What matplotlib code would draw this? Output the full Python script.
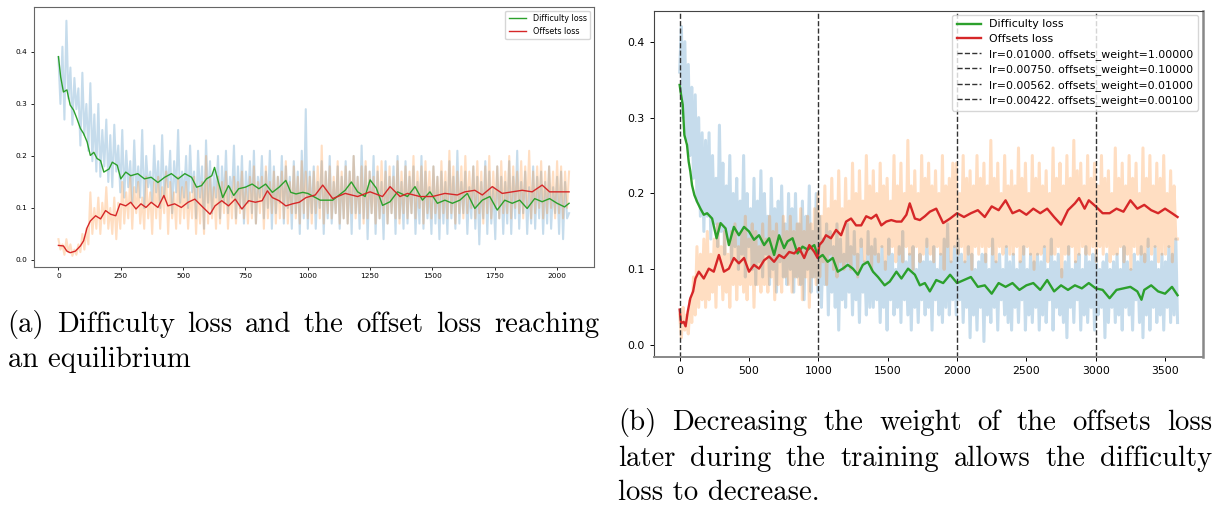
import numpy as np
import matplotlib
matplotlib.use("Agg")
import matplotlib.pyplot as plt
from matplotlib.font_manager import FontProperties

# ---------------- (a) equilibrium run ----------------
steps_a = 2048
diff_raw_a = [0.39, 0.30, 0.41, 0.27, 0.46, 0.31, 0.37, 0.26, 0.35, 0.29, 0.33, 0.22, 0.36, 0.24, 0.30, 0.21,
              0.34, 0.19, 0.28, 0.17, 0.30, 0.16, 0.25, 0.18, 0.27, 0.15, 0.24, 0.14, 0.26, 0.17, 0.22, 0.13,
              0.25, 0.12, 0.21, 0.14, 0.19, 0.11, 0.23, 0.13, 0.18, 0.12, 0.25, 0.10, 0.20, 0.14, 0.17, 0.11,
              0.22, 0.13, 0.19, 0.10, 0.24, 0.12, 0.18, 0.14, 0.21, 0.09, 0.19, 0.13, 0.25, 0.11, 0.17, 0.12,
              0.20, 0.10, 0.22, 0.13, 0.17, 0.08, 0.21, 0.12, 0.18, 0.06, 0.23, 0.11, 0.19, 0.09, 0.17, 0.12,
              0.20, 0.08, 0.18, 0.11, 0.21, 0.09, 0.16, 0.12, 0.22, 0.08, 0.18, 0.10, 0.20, 0.07, 0.17, 0.11,
              0.19, 0.09, 0.21, 0.07, 0.16, 0.12, 0.20, 0.08, 0.17, 0.10, 0.21, 0.06, 0.18, 0.09, 0.16, 0.11,
              0.20, 0.07, 0.18, 0.10, 0.16, 0.06, 0.19, 0.09, 0.17, 0.05, 0.21, 0.08, 0.29, 0.06, 0.17, 0.09,
              0.18, 0.06, 0.15, 0.10, 0.19, 0.05, 0.17, 0.08, 0.20, 0.07, 0.15, 0.09, 0.18, 0.06, 0.16, 0.08,
              0.19, 0.07, 0.17, 0.05, 0.20, 0.09, 0.16, 0.06, 0.22, 0.08, 0.18, 0.04, 0.17, 0.09, 0.20, 0.05,
              0.17, 0.08, 0.15, 0.04, 0.19, 0.07, 0.16, 0.09, 0.18, 0.05, 0.20, 0.08, 0.15, 0.06, 0.19, 0.07,
              0.16, 0.09, 0.18, 0.05, 0.15, 0.07, 0.20, 0.06, 0.17, 0.08, 0.14, 0.05, 0.18, 0.07, 0.16, 0.04,
              0.17, 0.07, 0.15, 0.05, 0.19, 0.08, 0.16, 0.06, 0.21, 0.07, 0.15, 0.09, 0.17, 0.05, 0.14, 0.08,
              0.18, 0.06, 0.16, 0.03, 0.15, 0.08, 0.19, 0.05, 0.17, 0.07, 0.14, 0.04, 0.18, 0.08, 0.16, 0.05,
              0.15, 0.07, 0.19, 0.05, 0.16, 0.08, 0.21, 0.06, 0.15, 0.09, 0.17, 0.05, 0.14, 0.07, 0.18, 0.06,
              0.16, 0.08, 0.17, 0.05, 0.15, 0.07, 0.18, 0.06, 0.14, 0.09, 0.16, 0.05, 0.17, 0.04, 0.15, 0.08,
              0.09]
off_raw_a = [0.04, 0.02, 0.03, 0.01, 0.04, 0.015, 0.03, 0.008, 0.02, 0.01, 0.03, 0.015, 0.05, 0.02, 0.06, 0.03,
             0.13, 0.05, 0.10, 0.06, 0.12, 0.05, 0.11, 0.07, 0.14, 0.06, 0.10, 0.05, 0.12, 0.04, 0.11, 0.06,
             0.15, 0.07, 0.13, 0.08, 0.16, 0.06, 0.14, 0.09, 0.15, 0.07, 0.12, 0.06, 0.16, 0.08, 0.13, 0.05,
             0.15, 0.08, 0.16, 0.06, 0.14, 0.09, 0.17, 0.05, 0.15, 0.08, 0.13, 0.06, 0.16, 0.07, 0.14, 0.08,
             0.15, 0.06, 0.13, 0.08, 0.16, 0.05, 0.14, 0.07, 0.15, 0.05, 0.20, 0.07, 0.16, 0.08, 0.14, 0.06,
             0.16, 0.07, 0.15, 0.09, 0.17, 0.06, 0.14, 0.08, 0.16, 0.07, 0.15, 0.09, 0.17, 0.08, 0.14, 0.07,
             0.16, 0.08, 0.18, 0.07, 0.15, 0.09, 0.16, 0.06, 0.18, 0.08, 0.15, 0.09, 0.17, 0.07, 0.16, 0.08,
             0.17, 0.08, 0.19, 0.07, 0.15, 0.09, 0.18, 0.08, 0.16, 0.07, 0.19, 0.09, 0.17, 0.08, 0.16, 0.07,
             0.17, 0.09, 0.18, 0.08, 0.22, 0.07, 0.17, 0.09, 0.18, 0.08, 0.16, 0.09, 0.19, 0.07, 0.17, 0.08,
             0.18, 0.07, 0.17, 0.09, 0.20, 0.08, 0.16, 0.09, 0.18, 0.07, 0.19, 0.08, 0.17, 0.09, 0.16, 0.07,
             0.18, 0.08, 0.19, 0.09, 0.17, 0.07, 0.18, 0.09, 0.16, 0.08, 0.19, 0.07, 0.17, 0.09, 0.18, 0.08,
             0.17, 0.09, 0.20, 0.08, 0.17, 0.10, 0.18, 0.07, 0.19, 0.09, 0.17, 0.08, 0.18, 0.09, 0.16, 0.08,
             0.19, 0.09, 0.17, 0.08, 0.21, 0.09, 0.18, 0.07, 0.17, 0.09, 0.18, 0.08, 0.20, 0.09, 0.17, 0.10,
             0.18, 0.08, 0.19, 0.09, 0.17, 0.07, 0.18, 0.09, 0.20, 0.08, 0.17, 0.10, 0.18, 0.08, 0.19, 0.09,
             0.17, 0.09, 0.20, 0.08, 0.18, 0.10, 0.17, 0.09, 0.19, 0.08, 0.18, 0.10, 0.21, 0.08, 0.17, 0.09,
             0.18, 0.10, 0.19, 0.08, 0.17, 0.09, 0.18, 0.10, 0.17, 0.08, 0.19, 0.09, 0.18, 0.08, 0.17, 0.10,
             0.17]

diff_steps_a = [0, 9, 20, 34, 47, 61, 74, 88, 101, 115, 128, 142, 155, 169, 182, 203, 216, 236, 250, 270,
                290, 318, 345, 372, 399, 426, 453, 480, 507, 534, 554, 574, 594, 615, 626, 642, 659, 682, 703,
                723, 750, 777, 804, 831, 858, 885, 912, 932, 953, 980, 1000, 1050, 1100, 1150, 1175, 1200,
                1230, 1250, 1275, 1300, 1330, 1360, 1400, 1430, 1460, 1490, 1520, 1550, 1580, 1610, 1640,
                1670, 1700, 1730, 1760, 1790, 1820, 1850, 1880, 1910, 1940, 1970, 2000, 2030, 2048]
diff_smooth_a = [0.391, 0.352, 0.323, 0.327, 0.298, 0.288, 0.272, 0.253, 0.243, 0.227, 0.201, 0.207, 0.195,
                 0.191, 0.169, 0.175, 0.188, 0.182, 0.156, 0.169, 0.162, 0.166, 0.156, 0.159, 0.149, 0.159,
                 0.166, 0.156, 0.166, 0.159, 0.140, 0.143, 0.156, 0.162, 0.178, 0.149, 0.120, 0.143, 0.124,
                 0.137, 0.140, 0.146, 0.137, 0.146, 0.130, 0.140, 0.153, 0.130, 0.127, 0.130, 0.128, 0.115,
                 0.115, 0.134, 0.150, 0.131, 0.122, 0.154, 0.138, 0.105, 0.112, 0.131, 0.122, 0.141, 0.115,
                 0.131, 0.109, 0.115, 0.109, 0.115, 0.128, 0.099, 0.115, 0.122, 0.096, 0.115, 0.109, 0.115,
                 0.099, 0.118, 0.112, 0.118, 0.109, 0.102, 0.109]
off_steps_a = [0, 20, 34, 47, 68, 88, 101, 115, 128, 149, 169, 189, 209, 230, 247, 270, 290, 311, 331, 351,
               372, 399, 423, 439, 466, 493, 520, 547, 574, 608, 628, 655, 682, 709, 736, 763, 790, 817, 838,
               858, 885, 912, 939, 966, 993, 1030, 1060, 1100, 1150, 1200, 1250, 1300, 1330, 1370, 1400, 1450,
               1500, 1550, 1600, 1630, 1670, 1700, 1740, 1780, 1820, 1860, 1900, 1940, 1970, 2000, 2048]
off_smooth_a = [0.028, 0.027, 0.017, 0.014, 0.017, 0.027, 0.037, 0.062, 0.075, 0.085, 0.079, 0.095, 0.088,
                0.085, 0.108, 0.104, 0.111, 0.098, 0.108, 0.101, 0.111, 0.101, 0.124, 0.104, 0.108, 0.101,
                0.111, 0.117, 0.104, 0.088, 0.104, 0.114, 0.104, 0.117, 0.098, 0.114, 0.111, 0.114, 0.133,
                0.120, 0.114, 0.104, 0.108, 0.111, 0.120, 0.125, 0.144, 0.118, 0.128, 0.122, 0.131, 0.122,
                0.141, 0.122, 0.128, 0.122, 0.122, 0.128, 0.125, 0.131, 0.134, 0.125, 0.141, 0.128, 0.131,
                0.134, 0.131, 0.144, 0.131, 0.131, 0.131]

# ---------------- (b) weight schedule run ----------------
steps_b = 3590
diff_raw_b = [0.36, 0.42, 0.30, 0.40, 0.27, 0.37, 0.25, 0.34, 0.22, 0.33, 0.19, 0.30, 0.17, 0.28, 0.15, 0.27,
              0.17, 0.28, 0.14, 0.25, 0.16, 0.22, 0.13, 0.29, 0.15, 0.24, 0.12, 0.21, 0.14, 0.25, 0.11, 0.20,
              0.13, 0.22, 0.10, 0.19, 0.12, 0.25, 0.09, 0.20, 0.13, 0.18, 0.10, 0.22, 0.08, 0.19, 0.11, 0.23,
              0.09, 0.20, 0.12, 0.17, 0.08, 0.22, 0.10, 0.18, 0.07, 0.19, 0.11, 0.21, 0.09, 0.16, 0.08, 0.20,
              0.10, 0.18, 0.07, 0.20, 0.09, 0.16, 0.08, 0.19, 0.06, 0.17, 0.10, 0.21, 0.07, 0.15, 0.09, 0.20,
              0.07, 0.17, 0.05, 0.14, 0.08, 0.16, 0.04, 0.15, 0.07, 0.13, 0.05, 0.16, 0.02, 0.14, 0.06, 0.12,
              0.05, 0.16, 0.07, 0.13, 0.04, 0.15, 0.06, 0.12, 0.03, 0.14, 0.07, 0.11, 0.04, 0.15, 0.05, 0.13,
              0.05, 0.14, 0.06, 0.12, 0.03, 0.13, 0.05, 0.11, 0.02, 0.14, 0.06, 0.12, 0.04, 0.10, 0.05, 0.13,
              0.03, 0.15, 0.06, 0.11, 0.04, 0.12, 0.02, 0.13, 0.05, 0.10, 0.03, 0.12, 0.06, 0.11, 0.04, 0.14,
              0.05, 0.11, 0.02, 0.13, 0.06, 0.10, 0.04, 0.12, 0.03, 0.14, 0.05, 0.16, 0.04, 0.11, 0.06, 0.13,
              0.04, 0.14, 0.06, 0.12, 0.03, 0.11, 0.05, 0.13, 0.01, 0.12, 0.04, 0.10, 0.02, 0.11, 0.05, 0.12,
              0.005, 0.12, 0.04, 0.10, 0.03, 0.14, 0.05, 0.11, 0.02, 0.12, 0.06, 0.10, 0.04, 0.13, 0.03, 0.11,
              0.02, 0.12, 0.05, 0.10, 0.03, 0.11, 0.06, 0.13, 0.02, 0.10, 0.04, 0.12, 0.03, 0.11, 0.05, 0.12,
              0.02, 0.11, 0.04, 0.13, 0.03, 0.10, 0.06, 0.14, 0.02, 0.11, 0.05, 0.12, 0.04, 0.10, 0.03, 0.11,
              0.01, 0.13, 0.05, 0.10, 0.03, 0.11, 0.06, 0.12, 0.02, 0.10, 0.04, 0.13, 0.03, 0.11, 0.05, 0.12,
              0.02, 0.12, 0.04, 0.10, 0.05, 0.11, 0.01, 0.12, 0.03, 0.10, 0.05, 0.11, 0.03, 0.12, 0.04, 0.10,
              0.02, 0.13, 0.05, 0.11, 0.04, 0.10, 0.02, 0.12, 0.06, 0.11, 0.03, 0.13, 0.01, 0.12, 0.04, 0.14,
              0.02, 0.11, 0.05, 0.13, 0.03, 0.10, 0.04, 0.12, 0.02, 0.11, 0.05, 0.13, 0.03, 0.12, 0.04, 0.14,
              0.03]
off_raw_b = [0.04, 0.01, 0.05, 0.02, 0.04, 0.015, 0.06, 0.03, 0.09, 0.04, 0.13, 0.05, 0.12, 0.06, 0.14, 0.05,
             0.15, 0.06, 0.12, 0.07, 0.14, 0.05, 0.16, 0.08, 0.13, 0.06, 0.15, 0.07, 0.12, 0.05, 0.15, 0.08,
             0.16, 0.06, 0.13, 0.08, 0.15, 0.07, 0.17, 0.06, 0.14, 0.08, 0.16, 0.05, 0.15, 0.08, 0.13, 0.07,
             0.16, 0.08, 0.14, 0.07, 0.17, 0.09, 0.15, 0.06, 0.16, 0.08, 0.14, 0.07, 0.17, 0.09, 0.15, 0.08,
             0.17, 0.07, 0.15, 0.09, 0.16, 0.08, 0.18, 0.06, 0.15, 0.09, 0.17, 0.05, 0.16, 0.09, 0.18, 0.08,
             0.20, 0.09, 0.17, 0.11, 0.21, 0.08, 0.18, 0.12, 0.22, 0.10, 0.19, 0.09, 0.23, 0.11, 0.18, 0.10,
             0.22, 0.11, 0.19, 0.10, 0.24, 0.12, 0.20, 0.09, 0.23, 0.13, 0.19, 0.11, 0.25, 0.12, 0.21, 0.10,
             0.23, 0.12, 0.20, 0.11, 0.24, 0.13, 0.21, 0.10, 0.22, 0.12, 0.19, 0.13, 0.25, 0.11, 0.21, 0.12,
             0.24, 0.11, 0.20, 0.13, 0.27, 0.12, 0.21, 0.10, 0.23, 0.13, 0.20, 0.11, 0.25, 0.12, 0.22, 0.13,
             0.24, 0.12, 0.21, 0.11, 0.23, 0.13, 0.20, 0.12, 0.25, 0.10, 0.21, 0.13, 0.22, 0.11, 0.24, 0.13,
             0.24, 0.12, 0.20, 0.13, 0.25, 0.11, 0.22, 0.12, 0.23, 0.10, 0.21, 0.13, 0.25, 0.12, 0.22, 0.13,
             0.24, 0.11, 0.21, 0.13, 0.27, 0.12, 0.22, 0.11, 0.24, 0.13, 0.20, 0.12, 0.25, 0.13, 0.21, 0.12,
             0.23, 0.12, 0.21, 0.13, 0.26, 0.11, 0.22, 0.12, 0.24, 0.13, 0.20, 0.12, 0.25, 0.10, 0.22, 0.12,
             0.24, 0.12, 0.21, 0.13, 0.23, 0.11, 0.20, 0.12, 0.26, 0.12, 0.22, 0.13, 0.24, 0.09, 0.21, 0.12,
             0.25, 0.12, 0.22, 0.13, 0.27, 0.11, 0.23, 0.12, 0.24, 0.13, 0.21, 0.12, 0.25, 0.12, 0.22, 0.13,
             0.24, 0.11, 0.21, 0.13, 0.25, 0.12, 0.22, 0.13, 0.23, 0.11, 0.20, 0.12, 0.26, 0.12, 0.22, 0.13,
             0.24, 0.11, 0.21, 0.12, 0.25, 0.10, 0.22, 0.13, 0.24, 0.12, 0.20, 0.12, 0.26, 0.11, 0.22, 0.13,
             0.25, 0.12, 0.21, 0.13, 0.24, 0.11, 0.22, 0.12, 0.25, 0.12, 0.20, 0.13, 0.23, 0.11, 0.21, 0.14,
             0.14]

diff_steps_b = [0, 10, 22, 34, 53, 65, 77, 89, 106, 126, 150, 174, 198, 234, 266, 295, 331, 355, 391, 427,
                464, 500, 536, 572, 609, 645, 681, 717, 753, 778, 814, 850, 886, 923, 971, 1000, 1031, 1067,
                1104, 1140, 1176, 1212, 1249, 1285, 1321, 1357, 1394, 1430, 1478, 1515, 1563, 1599, 1647,
                1696, 1732, 1768, 1804, 1850, 1900, 1950, 2000, 2050, 2100, 2150, 2200, 2250, 2300, 2350,
                2400, 2450, 2500, 2550, 2600, 2650, 2700, 2750, 2800, 2850, 2900, 2950, 3000, 3050, 3100,
                3150, 3200, 3250, 3300, 3330, 3350, 3400, 3450, 3500, 3550, 3590]
diff_smooth_b = [0.343, 0.330, 0.317, 0.277, 0.264, 0.242, 0.229, 0.211, 0.198, 0.189, 0.180, 0.172, 0.174,
                 0.167, 0.141, 0.161, 0.154, 0.132, 0.156, 0.145, 0.156, 0.150, 0.139, 0.145, 0.132, 0.141,
                 0.119, 0.145, 0.128, 0.137, 0.141, 0.121, 0.130, 0.126, 0.132, 0.115, 0.119, 0.110, 0.115,
                 0.097, 0.101, 0.106, 0.101, 0.093, 0.106, 0.110, 0.097, 0.090, 0.079, 0.084, 0.097, 0.088,
                 0.101, 0.093, 0.079, 0.082, 0.071, 0.086, 0.082, 0.093, 0.082, 0.086, 0.090, 0.077, 0.079,
                 0.068, 0.082, 0.077, 0.082, 0.073, 0.079, 0.082, 0.073, 0.086, 0.071, 0.079, 0.073, 0.079,
                 0.075, 0.082, 0.075, 0.073, 0.062, 0.073, 0.075, 0.077, 0.071, 0.060, 0.073, 0.079, 0.071,
                 0.068, 0.077, 0.066]
off_steps_b = [0, 10, 29, 43, 58, 77, 97, 114, 138, 174, 210, 246, 283, 319, 355, 391, 427, 464, 500, 536,
               572, 609, 645, 681, 717, 753, 790, 826, 862, 898, 935, 971, 995, 1007, 1031, 1055, 1091, 1128,
               1164, 1200, 1236, 1272, 1309, 1345, 1381, 1418, 1454, 1490, 1526, 1563, 1599, 1635, 1659,
               1696, 1732, 1768, 1804, 1850, 1900, 1950, 2000, 2050, 2100, 2150, 2200, 2250, 2300, 2350,
               2400, 2450, 2500, 2550, 2600, 2650, 2700, 2750, 2800, 2850, 2880, 2920, 2950, 3000, 3050,
               3100, 3150, 3200, 3250, 3300, 3350, 3400, 3450, 3500, 3550, 3590]
off_smooth_b = [0.047, 0.029, 0.031, 0.025, 0.044, 0.062, 0.071, 0.088, 0.097, 0.088, 0.101, 0.097, 0.119,
                0.097, 0.101, 0.115, 0.108, 0.115, 0.097, 0.106, 0.101, 0.112, 0.117, 0.110, 0.119, 0.115,
                0.123, 0.121, 0.128, 0.115, 0.132, 0.123, 0.115, 0.132, 0.137, 0.145, 0.141, 0.152, 0.145,
                0.163, 0.167, 0.158, 0.158, 0.170, 0.167, 0.172, 0.158, 0.163, 0.165, 0.163, 0.163, 0.172,
                0.187, 0.167, 0.165, 0.170, 0.176, 0.180, 0.161, 0.167, 0.174, 0.169, 0.174, 0.178, 0.169,
                0.183, 0.178, 0.191, 0.174, 0.178, 0.172, 0.180, 0.174, 0.180, 0.169, 0.159, 0.178, 0.187,
                0.194, 0.180, 0.191, 0.183, 0.174, 0.174, 0.180, 0.176, 0.191, 0.180, 0.185, 0.178, 0.174,
                0.180, 0.174, 0.169]

change_steps = [0, 1000, 2000, 3000]
lr_values = ["0.01000", "0.00750", "0.00562", "0.00422"]
offset_weights = ["1.00000", "0.10000", "0.01000", "0.00100"]

caption_a = ["(a) Difficulty loss and the offset loss reaching", "an equilibrium"]
caption_b = ["(b) Decreasing the weight of the offsets loss",
             "later during the training allows the difficulty", "loss to decrease."]

W, H = 1220, 508
fig = plt.figure(figsize=(W / 100, H / 100), dpi=100)

# left panel
ax1 = fig.add_axes([33.5 / W, 1 - 267 / H, (594 - 33.5) / W, (267 - 6.7) / H])
ax1.plot(np.linspace(0, steps_a, len(diff_raw_a)), diff_raw_a, color="C0", alpha=0.25, lw=1.5)
ax1.plot(np.linspace(0, steps_a, len(off_raw_a)), off_raw_a, color="C1", alpha=0.25, lw=1.5)
ax1.plot(diff_steps_a, diff_smooth_a, color="C2", lw=1.0, label="Difficulty loss")
ax1.plot(off_steps_a, off_smooth_a, color="C3", lw=1.0, label="Offsets loss")
ax1.set_xlim(-100, 2148)
ax1.set_ylim(-0.0135, 0.487)
ax1.set_xticks(np.arange(0, 2001, 250))
ax1.set_yticks([0.0, 0.1, 0.2, 0.3, 0.4])
ax1.tick_params(labelsize=5.3, length=2.5, width=0.6, pad=2)
for s in ax1.spines.values():
    s.set_color("#666666")
    s.set_linewidth(0.8)
ax1.legend(loc="upper right", fontsize=5.8, handlelength=2.2, borderaxespad=0.5)

# right panel
ax2 = fig.add_axes([654 / W, 1 - 357.3 / H, (1202.5 - 654) / W, (357.3 - 10.7) / H])
ax2.plot(np.linspace(0, steps_b, len(diff_raw_b)), diff_raw_b, color="C0", alpha=0.25, lw=2.2)
ax2.plot(np.linspace(0, steps_b, len(off_raw_b)), off_raw_b, color="C1", alpha=0.25, lw=2.2)
ax2.plot(diff_steps_b, diff_smooth_b, color="C2", lw=1.7, label="Difficulty loss")
ax2.plot(off_steps_b, off_smooth_b, color="C3", lw=1.7, label="Offsets loss")
for st, lr, w in zip(change_steps, lr_values, offset_weights):
    ax2.axvline(st, color="#333333", ls="--", lw=1.0, label=f"lr={lr}. offsets_weight={w}")
ax2.set_xlim(-185, 3770)
ax2.set_ylim(-0.0158, 0.4408)
ax2.set_xticks(np.arange(0, 3501, 500))
ax2.set_yticks([0.0, 0.1, 0.2, 0.3, 0.4])
ax2.tick_params(labelsize=7.8, length=3, width=0.7)
for s in ax2.spines.values():
    s.set_color("#444444")
ax2.spines["right"].set_color("#888888")
ax2.spines["right"].set_linewidth(1.8)
ax2.spines["bottom"].set_color("#888888")
ax2.spines["bottom"].set_linewidth(1.4)
ax2.legend(loc="upper right", fontsize=7.9, handlelength=2.2, labelspacing=0.42, borderaxespad=0.4)

# captions, justified like the LaTeX source
fp = FontProperties(family="cmr10", size=20.7)
renderer = fig.canvas.get_renderer()


def put_line(text, x0, x1, base, justify):
    words = text.split()
    if not justify:
        fig.text(x0 / W, 1 - base / H, text, fontproperties=fp, va="baseline", ha="left")
        return
    widths = [renderer.get_text_width_height_descent(wd, fp, ismath=False)[0] for wd in words]
    gap = (x1 - x0 - sum(widths)) / (len(words) - 1)
    x = x0
    for wd, wdt in zip(words, widths):
        fig.text(x / W, 1 - base / H, wd, fontproperties=fp, va="baseline", ha="left")
        x += wdt + gap


put_line(caption_a[0], 7.5, 599, 331.5, True)
put_line(caption_a[1], 7.5, 599, 367.0, False)
put_line(caption_b[0], 618, 1212, 430.0, True)
put_line(caption_b[1], 618, 1212, 466.5, True)
put_line(caption_b[2], 618, 1212, 500.5, False)

fig.savefig("out.png", dpi=100)
